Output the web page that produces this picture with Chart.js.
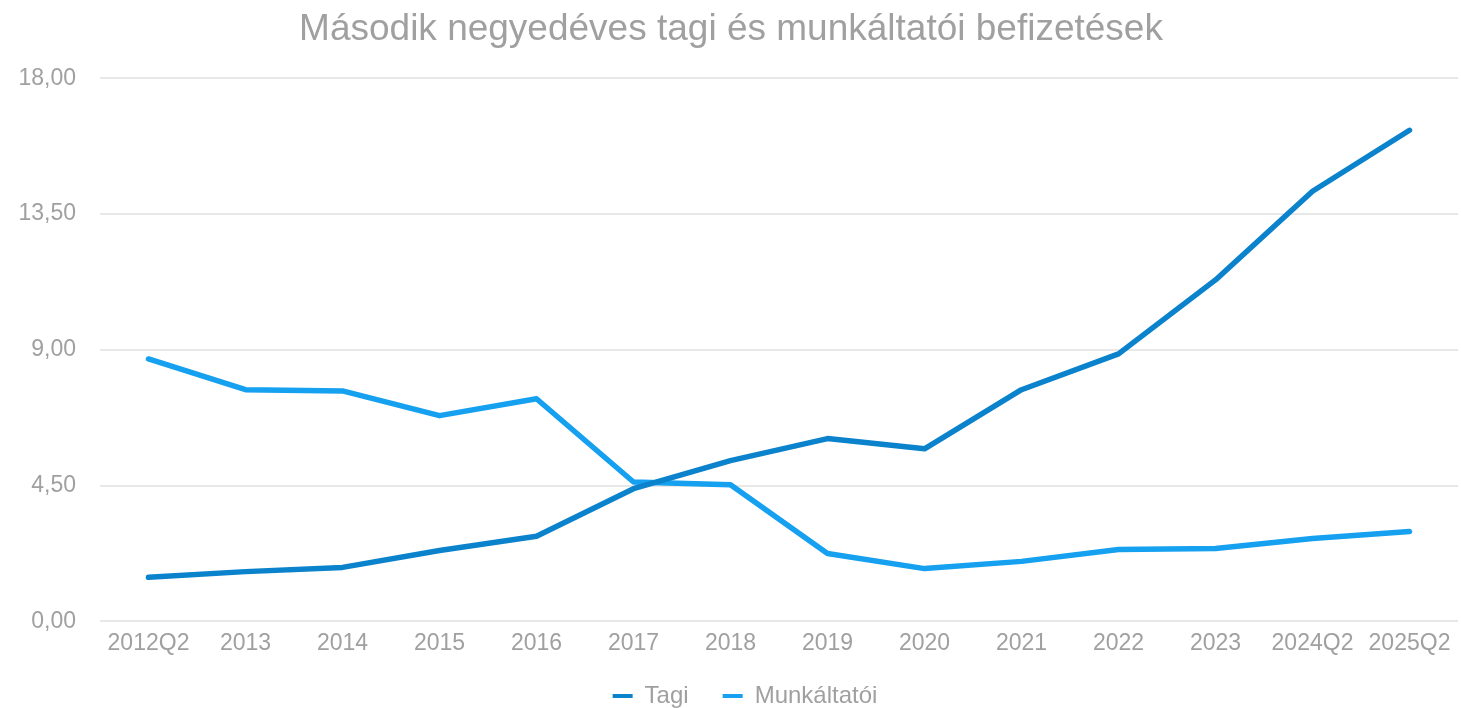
<!DOCTYPE html>
<html>
<head>
<meta charset="utf-8">
<script src="https://cdn.jsdelivr.net/npm/chart.js@4/dist/chart.umd.min.js"></script>
<style>
html,body{margin:0;padding:0;background:#fff;}
#wrap{width:1461px;height:708px;position:relative;}
</style>
</head>
<body>
<div id="wrap"><canvas id="c"></canvas></div>
<script>
const categories = ['2012Q2','2013','2014','2015','2016','2017','2018','2019','2020','2021','2022','2023','2024Q2','2025Q2'];
const tagi = [1.46,1.65,1.79,2.35,2.82,4.40,5.33,6.06,5.72,7.68,8.87,11.32,14.26,16.28];
const munkaltatoi = [8.70,7.68,7.64,6.82,7.38,4.62,4.53,2.25,1.75,1.99,2.38,2.42,2.75,2.98];
const yTicks = [0,4.5,9,13.5,18];

const fontFam = '"Liberation Sans", Arial, Helvetica, sans-serif';
const txt = '#a0a0a0';

// legend: wide horizontal gap between items, but compact height
const legendTweak = {
  id: 'legendTweak',
  beforeLayout(chart) {
    const lg = chart.legend;
    if (!lg || lg._tweaked) return;
    lg._tweaked = true;
    const of = lg.fit, od = lg.draw;
    lg.fit = function() { of.call(this); this.height = 51; };
    lg.draw = function() {
      const t = this.top, l = this.left, r = this.right;
      this.top = t - 7; this.left = l + 14; this.right = r + 14;
      od.call(this);
      this.top = t; this.left = l; this.right = r;
    };
  }
};

new Chart(document.getElementById('c'), {
  type: 'line',
  data: {
    labels: categories,
    datasets: [
      {label:'Tagi', data: tagi, borderColor:'#0b82cc', backgroundColor:'#0b82cc', borderWidth:5.5, pointRadius:0, tension:0, borderCapStyle:'round', borderJoinStyle:'round'},
      {label:'Munkáltatói', data: munkaltatoi, borderColor:'#16a0f0', backgroundColor:'#16a0f0', borderWidth:5.5, pointRadius:0, tension:0, borderCapStyle:'round', borderJoinStyle:'round'}
    ]
  },
  plugins: [legendTweak],
  options: {
    responsive:true, maintainAspectRatio:false, animation:false,
    layout:{padding:{left:4,right:3,top:4,bottom:0}},
    plugins:{
      title:{display:true, text:'Második negyedéves tagi és munkáltatói befizetések', color:txt, font:{family:fontFam, size:37, weight:'normal'}, padding:{top:4,bottom:26}},
      legend:{position:'bottom', labels:{color:txt, font:{family:fontFam, size:24}, boxWidth:20, boxHeight:4, padding:34,
        generateLabels:(chart)=>Chart.defaults.plugins.legend.labels.generateLabels(chart).map(l=>Object.assign(l,{lineWidth:0}))}},
      tooltip:{enabled:false}
    },
    scales:{
      x:{offset:true, grid:{display:false}, border:{display:false}, ticks:{color:txt, font:{family:fontFam, size:23}, maxRotation:0, autoSkip:false, padding:0}},
      y:{min:0, max:18, afterBuildTicks:(s)=>{s.ticks = yTicks.map(v=>({value:v}));}, afterFit:(s)=>{s.width = 96;}, grid:{color:'#e8e8e8', lineWidth:2, drawTicks:false}, border:{display:false},
         ticks:{color:txt, font:{family:fontFam, size:23}, padding:24, callback:(v)=>Number(v).toFixed(2).replace('.',',')}}
    }
  }
});
</script>
</body>
</html>
